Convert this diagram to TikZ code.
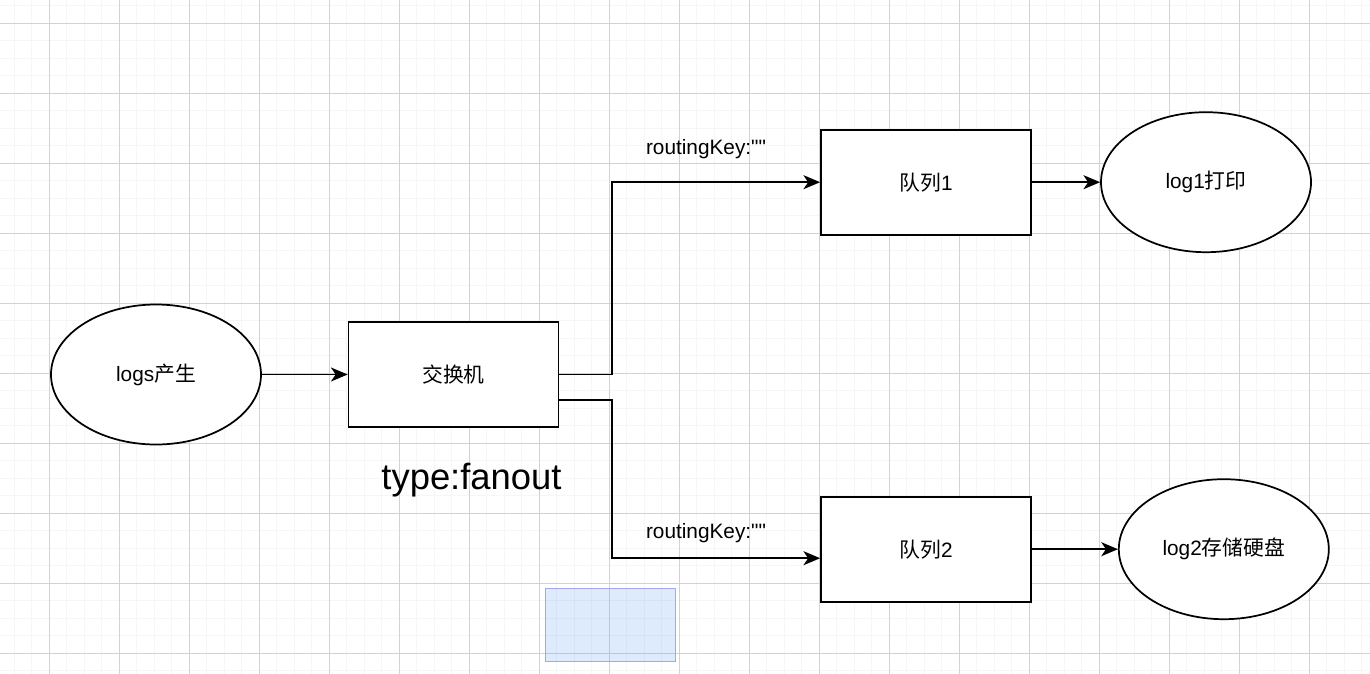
\documentclass[tikz,border=0pt]{standalone}
\usepackage{fontspec}
\setmainfont{Liberation Sans}
\newfontfamily\cjk{Noto Sans CJK SC}
\newfontfamily\plainf{Liberation Sans}
\usetikzlibrary{shapes.geometric,arrows.meta,calc}
\definecolor{gridminor}{RGB}{246,246,246}
\definecolor{gridmajor}{RGB}{210,210,210}
\definecolor{selfill}{RGB}{85,155,245}
\definecolor{selborder}{RGB}{165,165,240}
\tikzset{
  box/.style={draw=black, line width=1.3pt, fill=white, rectangle, inner sep=0pt,
    minimum width=157.5pt, minimum height=78.75pt, font=\fontsize{15.6}{18}\selectfont},
  oval/.style={draw=black, line width=1.3pt, fill=white, ellipse, inner sep=0pt,
    minimum width=157.5pt, minimum height=105pt, font=\fontsize{15.6}{18}\selectfont},
  arr/.style={draw=black, line width=1.3pt, -{Stealth[length=12.5pt,width=10.5pt,inset=3.5pt]}},
  lbl/.style={inner sep=0pt, font=\fontsize{15.6}{18}\selectfont},
  biglbl/.style={inner sep=0pt, font=\fontsize{27.3}{30}\selectfont},
}
\begin{document}
\begin{tikzpicture}[x=0.75pt, y=-0.75pt]
\useasboundingbox (0,0) rectangle (1370,674);
\fill[white] (0,0) rectangle (1370,674);
% minor grid
\foreach \i in {0,...,79} {
  \draw[gridminor, line width=0.75pt] ({-3.2+17.5*\i},0) -- ({-3.2+17.5*\i},674);
}
\foreach \i in {0,...,39} {
  \draw[gridminor, line width=0.75pt] (0,{5.8+17.5*\i}) -- (1370,{5.8+17.5*\i});
}
% major grid
\foreach \i in {0,...,19} {
  \draw[gridmajor, line width=0.75pt] ({49.3+70*\i},0) -- ({49.3+70*\i},674);
}
\foreach \i in {0,...,9} {
  \draw[gridmajor, line width=0.75pt] (0,{23.3+70*\i}) -- (1370,{23.3+70*\i});
}

% nodes
\node[oval] (logs) at (156,374.5) {logs{\cjk 产生}};
\node[box] (jh) at (453.5,374.5) {{\cjk 交换机}};
\node[box] (q1) at (926,182.2) {{\cjk 队列}1};
\node[box] (q2) at (926,549.2) {{\cjk 队列}2};
\node[oval] (l1) at (1206,182.2) {log1{\cjk 打印}};
\node[oval] (l2) at (1223.8,549.2) {log2{\cjk 存储硬盘}};

\node[lbl] (rk1) at (706,149) {routingKey:{\plainf ""}};
\node[lbl] (rk2) at (706,533) {routingKey:{\plainf ""}};
\node[biglbl] (tf) at (471.5,480) {type:fanout};

% connectors
\draw[arr] (logs.east) -- (jh.west);
\draw[arr] (jh.east) -- ++(52.5,0) |- (q1.west);
\draw[arr] ($(jh.east)+(0,25.8)$) -- ++(52.5,0) |- ($(q2.west)+(0,9)$);
\draw[arr] (q1.east) -- (l1.west);
\draw[arr] (q2.east) -- (l2.west);

% selection rectangle
\fill[selfill, fill opacity=0.2] (545.3,588.3) rectangle (675.8,661.3);
\draw[selborder, line width=0.75pt] (545.3,588.3) rectangle (675.8,661.3);
\end{tikzpicture}
\end{document}
